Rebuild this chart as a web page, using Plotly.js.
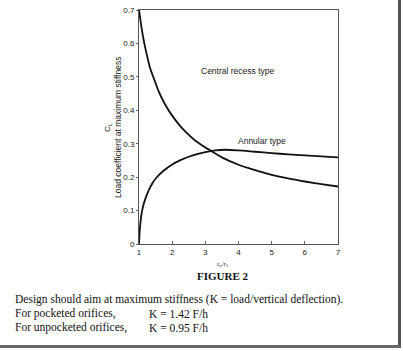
<!DOCTYPE html>
<html>
<head>
<meta charset="utf-8">
<script src="https://cdn.plot.ly/plotly-3.0.1.min.js"></script>
<style>
html,body{margin:0;padding:0;background:#fff;}
#wrap{position:relative;width:403px;height:351px;overflow:hidden;}
#chart{position:absolute;left:0;top:0;width:403px;height:351px;}
#frameR{position:absolute;left:398px;top:0;width:3px;height:348px;background:#555;}
#frameB{position:absolute;left:0;top:345px;width:401px;height:3px;background:#666;}
</style>
</head>
<body>
<div id="wrap"><div id="chart"></div><div id="frameR"></div><div id="frameB"></div></div>
<script>
// Ratio r0/r1
const centralX = [1.0, 1.04, 1.08, 1.16, 1.25, 1.33, 1.43, 1.6, 1.8, 2.0, 2.2, 2.4, 2.7, 3.0, 3.2, 3.5, 4.0, 4.5, 5.0, 5.5, 6.0, 6.5, 7.0];
const centralY = [0.70, 0.672, 0.645, 0.60, 0.56, 0.528, 0.50, 0.455, 0.415, 0.384, 0.358, 0.336, 0.309, 0.289, 0.277, 0.259, 0.237, 0.221, 0.207, 0.196, 0.187, 0.179, 0.172];
const annularX = [1.0, 1.01, 1.02, 1.05, 1.1, 1.2, 1.3, 1.4, 1.53, 1.75, 2.0, 2.25, 2.5, 2.75, 3.0, 3.3, 3.6, 4.0, 4.5, 5.0, 5.5, 6.0, 6.5, 7.0];
const annularY = [0.0, 0.02, 0.038, 0.07, 0.103, 0.138, 0.162, 0.181, 0.199, 0.220, 0.238, 0.251, 0.261, 0.269, 0.275, 0.280, 0.282, 0.280, 0.276, 0.272, 0.268, 0.265, 0.262, 0.259];
const xTicks = [1, 2, 3, 4, 5, 6, 7];
const yTicks = [0, 0.1, 0.2, 0.3, 0.4, 0.5, 0.6, 0.7];
const yTickText = ["0", "0.1", "0.2", "0.3", "0.4", "0.5", "0.6", "0.7"];
const curveLabels = ["Central recess type", "Annular type"];
const yTitle = "Load coefficient at maximum stiffness";
const yTitleSymbol = "C<sub>L</sub>";
const xTitle = "r<sub>o</sub>/r<sub>1</sub>";
const figTitle = "<b>FIGURE 2</b>";
const noteLines = [
  "Design should aim at maximum stiffness (K = load/vertical deflection).",
  "For pocketed orifices,",
  "For unpocketed orifices,"
];
const noteValues = ["K = 1.42 F/h", "K = 0.95 F/h"];

const L = 139, R = 338, T = 10, B = 244;
const W = 403, H = 351;
const px = v => (v - L) / (R - L);
const py = v => (B - v) / (B - T);

const sans = 'Liberation Sans, Arial, sans-serif';
const serif = 'Liberation Serif, Times New Roman, serif';

const traces = [
  {x: centralX, y: centralY, mode: 'lines', line: {color: '#111', width: 1.8, shape: 'spline', smoothing: 0.7}, hoverinfo: 'skip'},
  {x: annularX, y: annularY, mode: 'lines', line: {color: '#111', width: 1.8, shape: 'spline', smoothing: 0.7}, hoverinfo: 'skip'}
];

const ann = [];
function addText(text, x, y, font, extra) {
  ann.push(Object.assign({text: text, xref: 'paper', yref: 'paper', x: px(x), y: py(y), showarrow: false, font: font}, extra || {}));
}
const smallSans = {family: sans, size: 8.5, color: '#222'};
const body = {family: serif, size: 11.5, color: '#111'};
addText(curveLabels[0], 199, 64, smallSans);
addText(curveLabels[1], 262, 141, smallSans);
addText(yTitle, 111, 128, smallSans, {textangle: -90});
addText(yTitleSymbol, 101, 128, {family: sans, size: 8, color: '#222'}, {textangle: -90});
addText(xTitle, 223, 270, {family: serif, size: 7, color: '#333'});
addText(figTitle, 223, 284, {family: serif, size: 11, color: '#111'});
addText(noteLines[0], 13, 308, body, {xanchor: 'left'});
addText(noteLines[1], 13, 322, body, {xanchor: 'left'});
addText(noteLines[2], 13, 336, body, {xanchor: 'left'});
addText(noteValues[0], 147, 322, body, {xanchor: 'left'});
addText(noteValues[1], 147, 336, body, {xanchor: 'left'});

const layout = {
  width: W, height: H,
  margin: {l: L, r: W - R, t: T, b: H - B, pad: 0},
  paper_bgcolor: '#fff', plot_bgcolor: '#fff',
  showlegend: false,
  xaxis: {range: [1, 7], tickvals: xTicks, ticktext: xTicks.map(String), showgrid: false, zeroline: false,
    showline: true, linecolor: '#555', linewidth: 1, mirror: true, ticks: 'inside', ticklen: 3, tickcolor: '#666',
    tickfont: {family: sans, size: 8, color: '#222'}},
  yaxis: {range: [0, 0.7], tickvals: yTicks, ticktext: yTickText, showgrid: false, zeroline: false,
    showline: true, linecolor: '#555', linewidth: 1, mirror: true, ticks: 'outside', ticklen: 2, tickcolor: '#666',
    tickfont: {family: sans, size: 8, color: '#222'}},
  annotations: ann
};

Plotly.newPlot('chart', traces, layout, {displayModeBar: false, staticPlot: true});
</script>
</body>
</html>
